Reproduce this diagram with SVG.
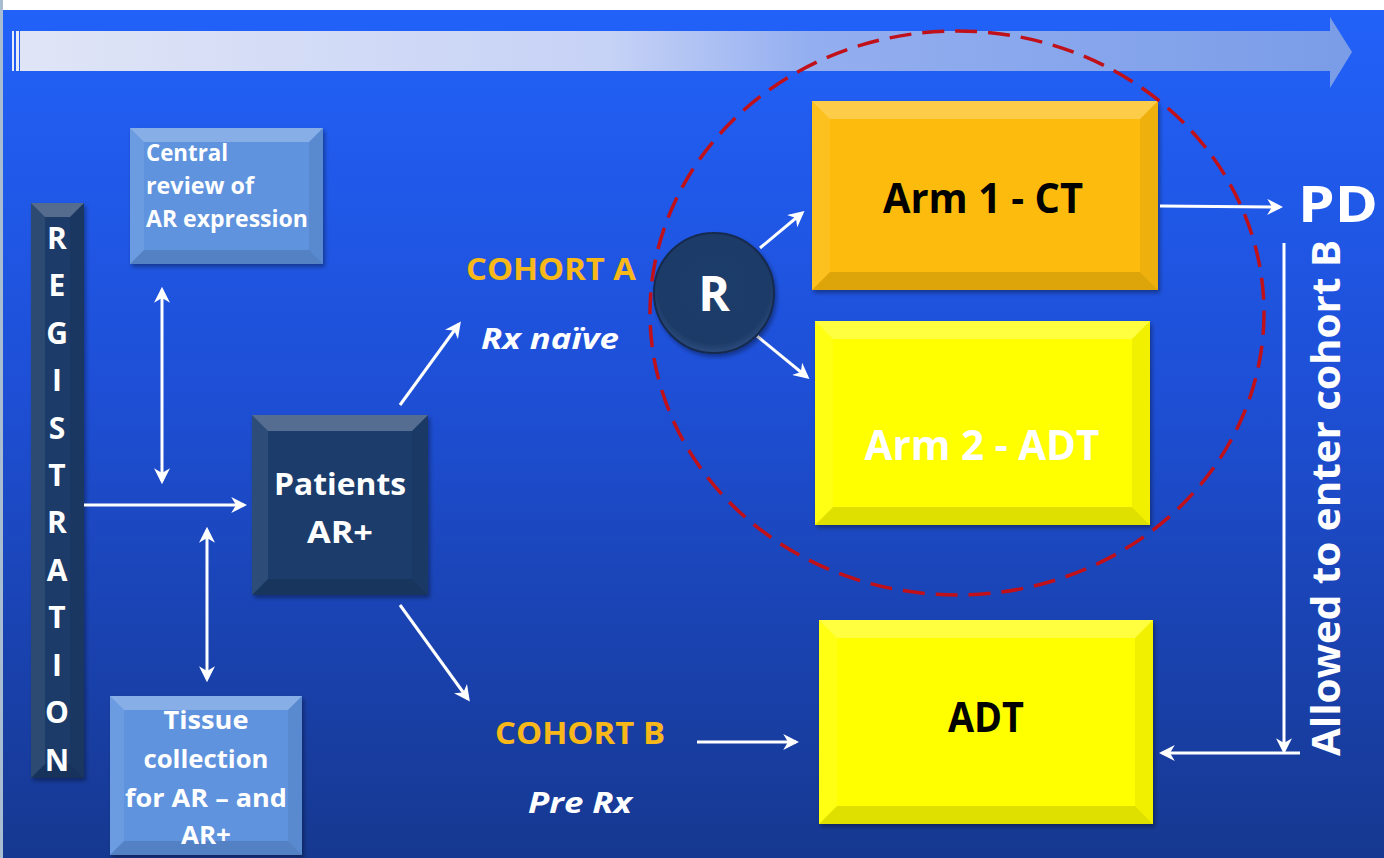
<svg xmlns="http://www.w3.org/2000/svg" width="1384" height="858" viewBox="0 0 1384 858">
<defs>
<linearGradient id="bg" x1="0" y1="0" x2="0" y2="1">
<stop offset="0" stop-color="#2262fa"/>
<stop offset="0.45" stop-color="#1e4fd6"/>
<stop offset="1" stop-color="#163890"/>
</linearGradient>
<linearGradient id="band" x1="0" y1="0" x2="1" y2="0">
<stop offset="0" stop-color="#e0e5f6"/>
<stop offset="0.45" stop-color="#c6d2f6"/>
<stop offset="0.6" stop-color="#94aff0"/>
<stop offset="1" stop-color="#7b9de8"/>
</linearGradient>
<radialGradient id="rg" cx="0.5" cy="0.45" r="0.55">
<stop offset="0" stop-color="#1f3d6c"/>
<stop offset="0.85" stop-color="#1d3a66"/>
<stop offset="1" stop-color="#2c4c7e"/>
</radialGradient>
<marker id="ah" viewBox="0 0 10 10" refX="8" refY="5" markerWidth="16" markerHeight="16" markerUnits="userSpaceOnUse" orient="auto-start-reverse">
<path d="M0,0 L10,5 L0,10 L3,5 z" fill="#ffffff"/>
</marker>
<filter id="sh" x="-10%" y="-10%" width="125%" height="125%">
<feDropShadow dx="2" dy="3" stdDeviation="2" flood-color="#000" flood-opacity="0.35"/>
</filter>
</defs>
<style>
.t{font-family:"Open Sans","Liberation Sans",sans-serif;font-weight:bold;}
.w{fill:#ffffff;}
.k{fill:#000000;}
.o{fill:#f8b81a;}
.bt{fill:#ffffff;opacity:0.25;}
.bl{fill:#ffffff;opacity:0.08;}
.br{fill:#000000;opacity:0.06;}
.bb{fill:#000000;opacity:0.12;}
.c{stroke:#ffffff;stroke-width:3;fill:none;}
</style>
<rect x="0" y="0" width="1384" height="858" fill="url(#bg)"/>
<rect x="0" y="0" width="1384" height="10" fill="#ffffff"/>
<rect x="0" y="0" width="3" height="858" fill="#a9bdd2"/>

<g id="timeline">
<rect x="12" y="31" width="2" height="40" fill="#e6ebf8"/>
<rect x="16" y="31" width="3" height="40" fill="#e6ebf8"/>
<rect x="20" y="31" width="1311" height="40" fill="url(#band)"/>
<polygon points="1330,17 1352,52 1330,88" fill="#7b9de8"/>
</g>

<g id="registration">
<rect x="31" y="203" width="53" height="575" fill="#1f3a68" filter="url(#sh)"/>
<polygon class="bt" points="31,203 84,203 70,217 45,217"/>
<polygon class="bl" points="31,203 45,217 45,764 31,778"/>
<polygon class="br" points="84,203 84,778 70,764 70,217"/>
<polygon class="bb" points="31,778 84,778 70,764 45,764"/>
<g class="t w" font-size="30" text-anchor="middle">
<text x="57" y="249">R</text>
<text x="57" y="296">E</text>
<text x="57" y="344">G</text>
<text x="57" y="391">I</text>
<text x="57" y="439">S</text>
<text x="57" y="486">T</text>
<text x="57" y="533">R</text>
<text x="57" y="581">A</text>
<text x="57" y="628">T</text>
<text x="57" y="676">I</text>
<text x="57" y="723">O</text>
<text x="57" y="771">N</text>
</g>
</g>

<g id="central-review">
<rect x="130" y="128" width="193" height="136" fill="#5e93de" filter="url(#sh)"/>
<polygon class="bt" points="130,128 323,128 309,142 144,142"/>
<polygon class="bl" points="130,128 144,142 144,250 130,264"/>
<polygon class="br" points="323,128 323,264 309,250 309,142"/>
<polygon class="bb" points="130,264 323,264 309,250 144,250"/>
<g class="t w" font-size="24">
<text x="146" y="161" textLength="82" lengthAdjust="spacingAndGlyphs">Central</text>
<text x="146" y="194" textLength="108" lengthAdjust="spacingAndGlyphs">review of</text>
<text x="146" y="227" textLength="162" lengthAdjust="spacingAndGlyphs">AR expression</text>
</g>
</g>

<g id="tissue">
<rect x="110" y="696" width="192" height="159" fill="#5e93de" filter="url(#sh)"/>
<polygon class="bt" points="110,696 302,696 288,710 124,710"/>
<polygon class="bl" points="110,696 124,710 124,841 110,855"/>
<polygon class="br" points="302,696 302,855 288,841 288,710"/>
<polygon class="bb" points="110,855 302,855 288,841 124,841"/>
<g class="t w" font-size="25" text-anchor="middle">
<text x="206" y="729" textLength="85" lengthAdjust="spacingAndGlyphs">Tissue</text>
<text x="206" y="768" textLength="125" lengthAdjust="spacingAndGlyphs">collection</text>
<text x="206" y="807" textLength="162" lengthAdjust="spacingAndGlyphs">for AR – and</text>
<text x="206" y="844" textLength="50" lengthAdjust="spacingAndGlyphs">AR+</text>
</g>
</g>

<g id="patients">
<rect x="252" y="415" width="176" height="180" fill="#1e3d6c" filter="url(#sh)"/>
<polygon class="bt" points="252,415 428,415 412,431 268,431"/>
<polygon class="bl" points="252,415 268,431 268,579 252,595"/>
<polygon class="br" points="428,415 428,595 412,579 412,431"/>
<polygon class="bb" points="252,595 428,595 412,579 268,579"/>
<g class="t w" font-size="31" text-anchor="middle">
<text x="340" y="495" textLength="132" lengthAdjust="spacingAndGlyphs">Patients</text>
<text x="340" y="543" textLength="66" lengthAdjust="spacingAndGlyphs">AR+</text>
</g>
</g>

<g id="cohort-a">
<text class="t o" x="466" y="280" font-size="31" textLength="170" lengthAdjust="spacingAndGlyphs">COHORT A</text>
<text class="t w" x="481" y="349" font-size="28" font-style="italic" textLength="138" lengthAdjust="spacingAndGlyphs">Rx naïve</text>
</g>

<g id="cohort-b">
<text class="t o" x="495" y="744" font-size="31" textLength="170" lengthAdjust="spacingAndGlyphs">COHORT B</text>
<text class="t w" x="528" y="813" font-size="28" font-style="italic" textLength="104" lengthAdjust="spacingAndGlyphs">Pre Rx</text>
</g>

<g id="arm1">
<rect x="812" y="101" width="346" height="189" fill="#fdbc0c" filter="url(#sh)"/>
<polygon class="bt" points="812,101 1158,101 1140,119 830,119"/>
<polygon class="bl" points="812,101 830,119 830,272 812,290"/>
<polygon class="br" points="1158,101 1158,290 1140,272 1140,119"/>
<polygon class="bb" points="812,290 1158,290 1140,272 830,272"/>
<text class="t k" x="983" y="213" font-size="42" text-anchor="middle" textLength="200" lengthAdjust="spacingAndGlyphs">Arm 1 - CT</text>
</g>

<g id="arm2">
<rect x="815" y="321" width="335" height="204" fill="#ffff00" filter="url(#sh)"/>
<polygon class="bt" points="815,321 1150,321 1132,339 833,339"/>
<polygon class="bl" points="815,321 833,339 833,507 815,525"/>
<polygon class="br" points="1150,321 1150,525 1132,507 1132,339"/>
<polygon class="bb" points="815,525 1150,525 1132,507 833,507"/>
<text class="t w" x="982" y="460" font-size="42" text-anchor="middle" textLength="235" lengthAdjust="spacingAndGlyphs">Arm 2 - ADT</text>
</g>

<g id="adt">
<rect x="819" y="620" width="334" height="204" fill="#ffff00" filter="url(#sh)"/>
<polygon class="bt" points="819,620 1153,620 1135,638 837,638"/>
<polygon class="bl" points="819,620 837,638 837,806 819,824"/>
<polygon class="br" points="1153,620 1153,824 1135,806 1135,638"/>
<polygon class="bb" points="819,824 1153,824 1135,806 837,806"/>
<text class="t k" x="986" y="732" font-size="42" text-anchor="middle" textLength="76" lengthAdjust="spacingAndGlyphs">ADT</text>
</g>

<g id="pd">
<text class="t w" x="1298" y="222" font-size="50" textLength="80" lengthAdjust="spacingAndGlyphs">PD</text>
</g>

<g id="allowed">
<text class="t w" transform="translate(1340,498) rotate(-90)" x="0" y="0" font-size="39" text-anchor="middle" textLength="516" lengthAdjust="spacingAndGlyphs">Allowed to enter  cohort B</text>
</g>

<g id="connectors">
<line class="c" x1="84" y1="505" x2="244" y2="505" marker-end="url(#ah)"/>
<line class="c" x1="162" y1="290" x2="162" y2="481" marker-start="url(#ah)" marker-end="url(#ah)"/>
<line class="c" x1="207" y1="530" x2="207" y2="679" marker-start="url(#ah)" marker-end="url(#ah)"/>
<line class="c" x1="400" y1="405" x2="459" y2="324" marker-end="url(#ah)"/>
<line class="c" x1="400" y1="605" x2="468" y2="699" marker-end="url(#ah)"/>
<line class="c" x1="760" y1="248" x2="802" y2="213" marker-end="url(#ah)"/>
<line class="c" x1="757" y1="336" x2="807" y2="377" marker-end="url(#ah)"/>
<line class="c" x1="1160" y1="206" x2="1280" y2="207" marker-end="url(#ah)"/>
<line class="c" x1="1284" y1="243" x2="1284" y2="751" marker-end="url(#ah)"/>
<line class="c" x1="1300" y1="753" x2="1162" y2="753" marker-end="url(#ah)"/>
<line class="c" x1="697" y1="742" x2="796" y2="742" marker-end="url(#ah)"/>
</g>

<g id="randomise">
<circle cx="714" cy="293" r="60" fill="url(#rg)" stroke="#142a4e" stroke-width="2" filter="url(#sh)"/>
<text class="t w" x="714" y="311" font-size="48" text-anchor="middle">R</text>
</g>

<g id="randomisation-zone">
<ellipse cx="957" cy="313" rx="307" ry="282" fill="none" stroke="#c0101a" stroke-width="3.5" stroke-dasharray="22 11"/>
</g>
</svg>
